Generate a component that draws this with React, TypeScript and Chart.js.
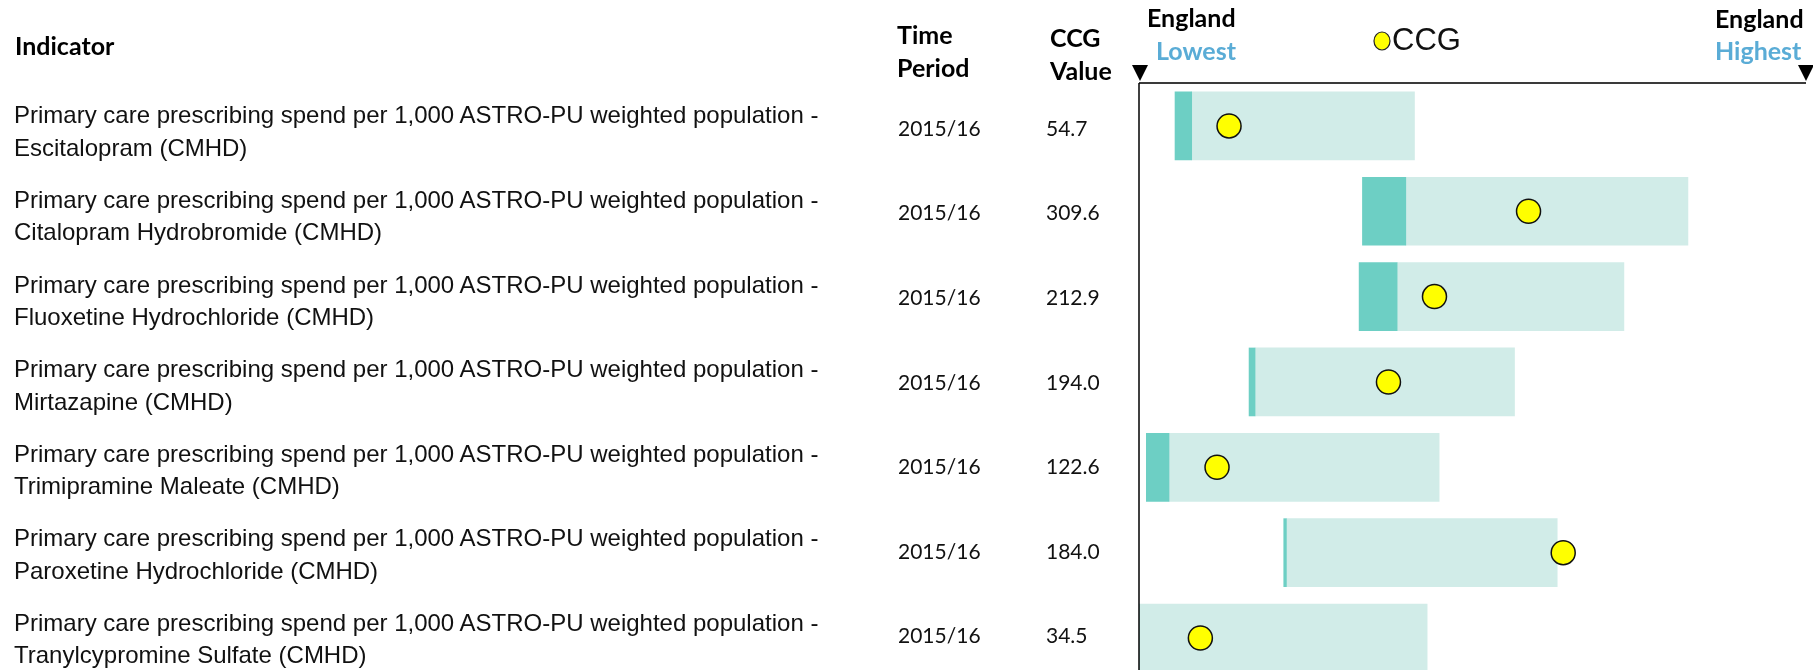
import React, { useEffect, useRef } from "react";
import { Chart, registerables } from "chart.js";

Chart.register(...registerables);

// ---- data ----
const indicatorPrefix =
  "Primary care prescribing spend per 1,000 ASTRO-PU weighted population -";
const indicatorNames = [
  "Escitalopram (CMHD)",
  "Citalopram Hydrobromide (CMHD)",
  "Fluoxetine Hydrochloride (CMHD)",
  "Mirtazapine (CMHD)",
  "Trimipramine Maleate (CMHD)",
  "Paroxetine Hydrochloride (CMHD)",
  "Tranylcypromine Sulfate (CMHD)",
];
const timePeriods = ["2015/16", "2015/16", "2015/16", "2015/16", "2015/16", "2015/16", "2015/16"];
const ccgValues = ["54.7", "309.6", "212.9", "194.0", "122.6", "184.0", "34.5"];
// positions on the England lowest (0) .. England highest (100) scale
const rangeLow = [5.4, 33.5, 33.0, 16.5, 1.1, 21.7, 0];
const darkEnd = [7.9, 40.0, 38.7, 17.4, 4.5, 22.1, 0];
const rangeHigh = [41.3, 82.3, 72.7, 56.3, 45.0, 62.7, 43.2];
const ccgPosition = [13.5, 58.4, 44.3, 37.4, 11.7, 63.6, 9.2];

// ---- layout ----
const W = 1813;
const H = 670;
const PLOT_LEFT = 1139;
const PLOT_RIGHT = 1806;
const PLOT_TOP = 84;
const ROW0 = 125.9;
const PITCH = 85.35;
const TEXT_PITCH = 84.6;

const DARK = "#6dcfc4";
const LIGHT = "#d1ece8";
const LABEL_BLUE = "#5aacd6";

const axisDecor = {
  id: "axisDecor",
  afterDatasetsDraw(chart: any) {
    const { ctx, chartArea } = chart;
    const { left, right, top, bottom } = chartArea;
    ctx.save();
    ctx.strokeStyle = "#3a3a3a";
    ctx.lineWidth = 2;
    ctx.beginPath();
    ctx.moveTo(left, top - 1);
    ctx.lineTo(right, top - 1);
    ctx.stroke();
    ctx.strokeStyle = "#000";
    ctx.lineWidth = 1.5;
    ctx.beginPath();
    ctx.moveTo(left, top - 1);
    ctx.lineTo(left, bottom);
    ctx.stroke();
    ctx.fillStyle = "#000";
    const tri = (cx: number) => {
      ctx.beginPath();
      ctx.moveTo(cx - 8, top - 19);
      ctx.lineTo(cx + 8, top - 19);
      ctx.lineTo(cx, top - 3);
      ctx.closePath();
      ctx.fill();
    };
    tri(left + 1);
    tri(right);
    ctx.restore();
  },
};

function BarChart() {
  const ref = useRef<HTMLCanvasElement | null>(null);
  useEffect(() => {
    if (!ref.current) return;
    const yMin = -(ROW0 - PLOT_TOP) / PITCH;
    const yMax = (H - ROW0) / PITCH;
    const chart = new Chart(ref.current, {
      type: "bar",
      data: {
        datasets: [
          {
            type: "scatter",
            label: "CCG",
            data: ccgPosition.map((v, i) => ({ x: v, y: i })),
            pointRadius: 12,
            pointHoverRadius: 12,
            backgroundColor: "#ffff00",
            borderColor: "#111",
            borderWidth: 1.5,
            clip: false,
            order: 0,
          } as any,
          {
            type: "bar",
            label: "lower",
            data: rangeLow.map((v, i) => ({ x: [v, darkEnd[i]], y: i })),
            backgroundColor: DARK,
            borderWidth: 0,
            barThickness: 68,
            grouped: false,
            order: 1,
          } as any,
          {
            type: "bar",
            label: "range",
            data: darkEnd.map((v, i) => ({ x: [v, rangeHigh[i]], y: i })),
            backgroundColor: LIGHT,
            borderWidth: 0,
            barThickness: 68,
            grouped: false,
            order: 2,
          } as any,
        ],
      },
      options: {
        indexAxis: "y",
        responsive: false,
        animation: false,
        layout: {
          autoPadding: false,
          padding: { left: PLOT_LEFT, right: W - PLOT_RIGHT, top: PLOT_TOP, bottom: 0 },
        },
        plugins: { legend: { display: false }, tooltip: { enabled: false } },
        scales: {
          x: { type: "linear", min: 0, max: 100, display: false, offset: false, grace: 0, bounds: "data" },
          y: { type: "linear", min: yMin, max: yMax, reverse: true, display: false, offset: false, grace: 0, bounds: "data" },
        },
      } as any,
      plugins: [axisDecor],
    });
    return () => chart.destroy();
  }, []);
  return <canvas ref={ref} width={W} height={H} style={{ position: "absolute", left: 0, top: 0 }} />;
}

export default function App() {
  const head = { fontFamily: "Lato, 'Open Sans', sans-serif", fontWeight: 700, fontSize: 25 } as any;
  const body = { fontFamily: "'Liberation Sans', Arial, sans-serif", fontSize: 24, fill: "#111" } as any;
  const num = { fontFamily: "Lato, 'Open Sans', sans-serif", fontSize: 21, fill: "#111" } as any;
  return (
    <div style={{ position: "absolute", left: 0, top: 0, width: W, height: H, overflow: "hidden", background: "#fff" }}>
      <BarChart />
      <svg width={W} height={H} style={{ position: "absolute", left: 0, top: 0 }}>
        <text x={15} y={55} style={head}>Indicator</text>
        <text x={897} y={44} style={head}>Time</text>
        <text x={897} y={77} style={head}>Period</text>
        <text x={1050} y={47} style={head}>CCG</text>
        <text x={1050} y={80} style={head}>Value</text>
        <text x={1147} y={27} style={head}>England</text>
        <text x={1156} y={60} style={{ ...head, fill: LABEL_BLUE }}>Lowest</text>
        <text x={1715} y={28} style={head}>England</text>
        <text x={1715} y={60} style={{ ...head, fill: LABEL_BLUE }}>Highest</text>
        <ellipse cx={1382} cy={41} rx={8} ry={9} fill="#ffff00" stroke="#222" strokeWidth={1.2} />
        <text x={1392} y={50} style={{ fontFamily: "'Liberation Sans', Arial, sans-serif", fontSize: 31, fill: "#111" }}>CCG</text>
        {indicatorNames.map((name, i) => {
          const c = ROW0 + TEXT_PITCH * i;
          return (
            <g key={i}>
              <text x={14} y={c - 2.6} style={body}>{indicatorPrefix}</text>
              <text x={14} y={c + 29.8} style={body}>{name}</text>
              <text x={898} y={c + 9.8} style={num}>{timePeriods[i]}</text>
              <text x={1046} y={c + 9.8} style={num}>{ccgValues[i]}</text>
            </g>
          );
        })}
      </svg>
    </div>
  );
}
